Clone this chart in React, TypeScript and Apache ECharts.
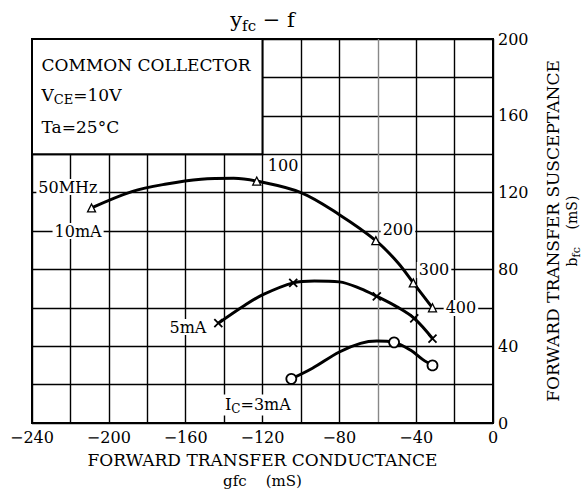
import React, { useEffect, useRef } from 'react';
import * as echarts from 'echarts';

const FONT = '"DejaVu Serif", serif';

// axis ranges and ticks
const X_MIN = -240;
const X_MAX = 0;
const Y_MIN = 0;
const Y_MAX = 200;
const GRID_STEP = 20;
const LABEL_STEP = 40;

// I_C = 10 mA curve (triangle markers = frequencies)
const curve10mA: [number, number][] = [
  [-209, 112], [-188, 120.5], [-170, 124.5], [-152, 127], [-135, 127.5], [-123, 126],
  [-100, 120], [-80, 108.5], [-61, 95], [-49.5, 83.5], [-41.5, 73], [-31.5, 60],
];
const marks10mA: [number, number][] = [
  [-209, 112], [-123, 126], [-61, 95], [-41.5, 73], [-31.5, 60],
];

// I_C = 5 mA curve (cross markers)
const curve5mA: [number, number][] = [
  [-143, 52], [-129, 61.5], [-119.5, 67], [-104, 73], [-93, 74], [-80, 73.5],
  [-69, 70], [-60.5, 66], [-50, 60.5], [-41, 54.5], [-31.5, 44],
];
const marks5mA: [number, number][] = [
  [-143, 52], [-104, 73], [-60.5, 66], [-41, 54.5], [-31.5, 44],
];

// I_C = 3 mA curve (circle markers)
const curve3mA: [number, number][] = [
  [-105, 23], [-94, 28.5], [-80, 37], [-69, 41.5], [-60.5, 42.7], [-51.5, 42],
  [-43, 38], [-36.5, 33], [-31.5, 30],
];
const marks3mA: [number, number][] = [
  [-105, 23], [-51.5, 42], [-31.5, 30],
];

// annotation texts and where they sit (data units)
const annotations: { text: string; at: [number, number] }[] = [
  { text: '50MHz', at: [-221.3, 122.9] },
  { text: '10mA', at: [-216, 100] },
  { text: '100', at: [-109.3, 133.9] },
  { text: '200', at: [-49.5, 101] },
  { text: '300', at: [-30.7, 79.7] },
  { text: '400', at: [-16.7, 59.9] },
  { text: '5mA', at: [-158.8, 50] },
  { text: 'I{s|C}=3mA', at: [-122.4, 9.4] },
];

// condition box (data units) and its texts
const boxFrom: [number, number] = [-240, 200];
const boxTo: [number, number] = [-120, 140];
const boxLines: { text: string; at: [number, number] }[] = [
  { text: 'COMMON COLLECTOR', at: [-235, 186.5] },
  { text: 'V{s|CE}=10V', at: [-235, 170.8] },
  { text: 'Ta=25°C', at: [-235, 154.2] },
];

const TITLE = 'y{s|fc} − f';
const X_NAME_1 = 'FORWARD TRANSFER CONDUCTANCE';
const X_NAME_2 = 'gfc    (mS)';
const Y_NAME_1 = 'FORWARD TRANSFER SUSCEPTANCE';
const Y_NAME_2 = 'b{s|fc}    (mS)';

const fmt = (v: number) => (v < 0 ? '\u2212' + String(-v) : String(v));

const richSub = {
  s: { fontSize: 12, fontFamily: FONT, fill: '#000', padding: [9, 0, 0, 0] },
};

export default function App() {
  const ref = useRef<HTMLDivElement>(null);
  useEffect(() => {
    if (!ref.current) return;
    const chart = echarts.init(ref.current, undefined, { renderer: 'svg' });
    const splitColorsX: string[] = [];
    for (let v = X_MIN; v <= X_MAX; v += GRID_STEP) splitColorsX.push(v === -60 ? '#888' : '#000');

    const lineSeries = (data: [number, number][]) => ({
      type: 'line',
      data,
      smooth: 0.35,
      symbol: 'none',
      lineStyle: { color: '#000', width: 3 },
      z: 2,
    });

    chart.setOption({
      animation: false,
      grid: {
        left: 32, right: 88, top: 39, bottom: 72,
        show: true, borderColor: '#000', borderWidth: 2,
      },
      xAxis: {
        type: 'value', min: X_MIN, max: X_MAX, interval: GRID_STEP,
        axisLine: { show: true, onZero: false, lineStyle: { color: '#000', width: 2 } },
        axisTick: { show: false },
        splitLine: { show: true, lineStyle: { color: splitColorsX, width: 1.4 } },
        axisLabel: {
          formatter: (v: number) => (v % LABEL_STEP === 0 ? fmt(v) : ''),
          color: '#000', fontFamily: FONT, fontSize: 16, margin: 6,
        },
      },
      yAxis: {
        type: 'value', position: 'right', min: Y_MIN, max: Y_MAX, interval: GRID_STEP,
        axisLine: { show: true, lineStyle: { color: '#000', width: 2 } },
        axisTick: { show: false },
        splitLine: { show: true, lineStyle: { color: '#000', width: 1.4 } },
        axisLabel: {
          formatter: (v: number) => (v % LABEL_STEP === 0 ? fmt(v) : ''),
          color: '#000', fontFamily: FONT, fontSize: 16, margin: 5,
        },
      },
      series: [
        lineSeries(curve10mA),
        lineSeries(curve5mA),
        lineSeries(curve3mA),
        {
          type: 'scatter', data: marks10mA, symbol: 'triangle', symbolSize: 8,
          itemStyle: { color: '#fff', borderColor: '#000', borderWidth: 1.3, opacity: 1 }, z: 3,
        },
        {
          type: 'scatter', data: marks5mA, symbol: 'path://M0,0L10,10M10,0L0,10', symbolSize: 8,
          itemStyle: { color: 'none', borderColor: '#000', borderWidth: 1.8, opacity: 1 }, z: 3,
        },
        {
          type: 'scatter', data: marks3mA, symbol: 'circle', symbolSize: 10,
          itemStyle: { color: '#fff', borderColor: '#000', borderWidth: 1.8, opacity: 1 }, z: 3,
        },
      ],
    });

    const px = (p: [number, number]) => chart.convertToPixel({ gridIndex: 0 }, p) as number[];
    const b0 = px(boxFrom);
    const b1 = px(boxTo);
    const gridTop = px([X_MIN, Y_MAX])[1];
    const gridBottom = px([X_MIN, Y_MIN])[1];
    const gridLeft = px([X_MIN, Y_MIN])[0];
    const gridRight = px([X_MAX, Y_MIN])[0];
    const midX = (gridLeft + gridRight) / 2;
    const midY = (gridTop + gridBottom) / 2;

    const textEl = (text: string, x: number, y: number, extra: any = {}) => ({
      type: 'text', x, y, z: 20,
      style: {
        text, fill: '#000', fontFamily: FONT, fontSize: 16,
        align: 'center', verticalAlign: 'middle', rich: richSub, ...extra,
      },
    });

    const graphic: any[] = [
      {
        type: 'rect', z: 10,
        shape: { x: b0[0], y: b0[1], width: b1[0] - b0[0], height: b1[1] - b0[1] },
        style: { fill: '#fff', stroke: '#000', lineWidth: 2 },
      },
      ...boxLines.map((l) => {
        const p = px(l.at);
        return textEl(l.text, p[0], p[1], { align: 'left', fontSize: 17, rich: { s: { ...richSub.s, fontSize: 13 } } });
      }),
      ...annotations.map((a) => {
        const p = px(a.at);
        return textEl(a.text, p[0], p[1], { backgroundColor: '#fff', padding: [0, 2, 0, 2] });
      }),
      textEl(TITLE, midX, 20, { fontSize: 21, rich: { s: { ...richSub.s, fontSize: 15, padding: [11, 0, 0, 0] } } }),
      textEl(X_NAME_1, midX, 460, { fontSize: 17 }),
      textEl(X_NAME_2, midX, 481, { fontSize: 15 }),
      { ...textEl(Y_NAME_1, 553, midY, { fontSize: 17 }), rotation: Math.PI / 2 },
      { ...textEl(Y_NAME_2, 572, midY, { fontSize: 14, rich: { s: { ...richSub.s, fontSize: 11, padding: [8, 0, 0, 0] } } }), rotation: Math.PI / 2 },
    ];
    chart.setOption({ graphic });

    return () => chart.dispose();
  }, []);
  return <div ref={ref} style={{ position: 'absolute', left: 0, top: 0, width: 581, height: 495 }} />;
}
